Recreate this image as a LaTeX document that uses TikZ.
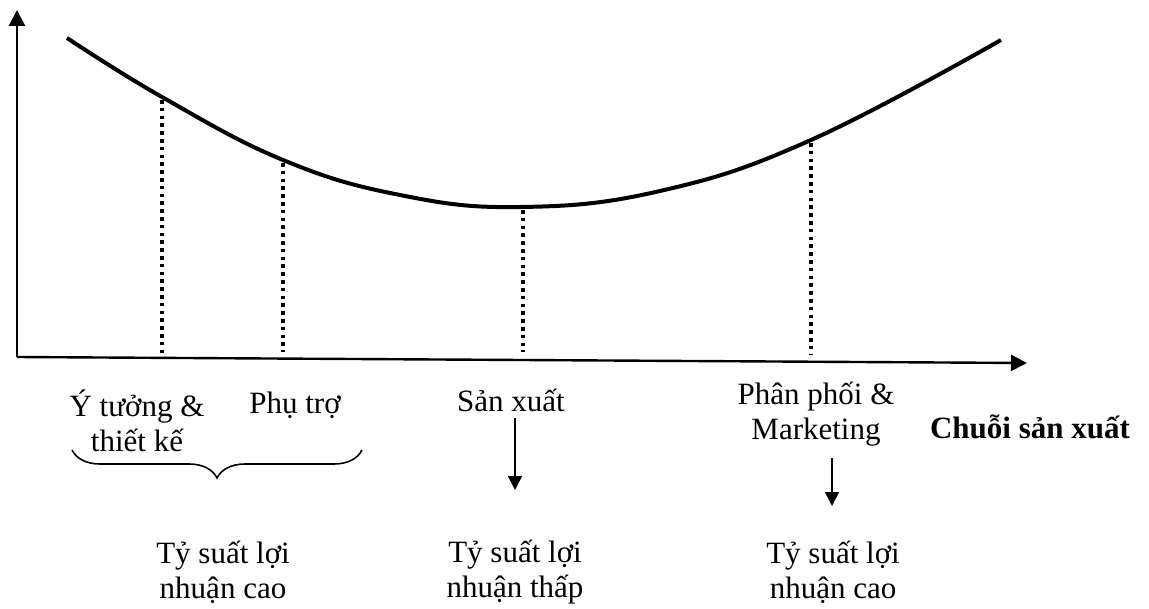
\documentclass[tikz,border=0pt]{standalone}
\usepackage{fontspec}
\setmainfont{Liberation Serif}
\usetikzlibrary{arrows.meta,decorations.pathreplacing}
\tikzset{
  truc/.style={line width=1.2pt,-{Triangle[length=8pt,width=8pt]}},
  duongcong/.style={line width=2pt},
  chamcham/.style={line width=1.8pt,dash pattern=on 1.8pt off 2.1pt},
  muiten/.style={line width=0.8pt,-{Triangle[length=7pt,width=7pt]}},
  nhan/.style={align=center,inner sep=0pt,font=\fontsize{15.5}{17.5}\selectfont}
}
\begin{document}
\begin{tikzpicture}[x=0.5pt,y=-0.5pt] % duong cong nu cuoi
\useasboundingbox (0,0) rectangle (1149,609);
\def\duong{(67,38) (162,97) (283,160) (400,195) (520,207) (660,191) (811,140) (1001,40)}
    % hai truc
    \coordinate (goc) at (17,357);
    \coordinate (dinhy) at (17,10);
    \coordinate (dinhx) at (1027,363);
    \draw[truc] (goc) -- (dinhy);
    \draw[truc] (goc) -- (dinhx);
    % duong cong
    \draw[duongcong] plot[smooth,tension=0.7] coordinates {\duong};
    % bon diem tren duong cong
    \coordinate (c1) at (162,100); \coordinate (f1) at (162,354);
    \coordinate (c2) at (283,163); \coordinate (f2) at (283,352);
    \coordinate (c3) at (523,210); \coordinate (f3) at (523,352);
    \coordinate (c4) at (811,143); \coordinate (f4) at (811,355);
    \foreach \i in {1,...,4}
        \draw[chamcham] (c\i) -- (f\i);
    % ten cac khau
    \node[nhan] (ytuong) at (137,421) {Ý tưởng \&\\thiết kế};
    \node[nhan,anchor=base] (phutro) at (295,413) {Phụ trợ};
    \node[nhan,anchor=base] (sanxuat) at (511,411) {Sản xuất};
    \node[nhan] (phanphoi) at (816,414) {Phân phối \&\\Marketing};
    \node[nhan,anchor=base,font=\fontsize{15.5}{17.5}\selectfont\bfseries] (chuoi) at (1030,438) {Chuỗi sản xuất};
    % ngoac va mui ten
    \coordinate (ngoactrai) at (72,450);
    \coordinate (ngoacphai) at (362,450);
    \draw[line width=0.8pt,decorate,decoration={brace,mirror,amplitude=14pt}] (ngoactrai) -- (ngoacphai);
    \coordinate (tu3) at (515,418); \coordinate (den3) at (515,490);
    \coordinate (tu4) at (832,458); \coordinate (den4) at (832,506);
    \draw[muiten] (tu3) -- (den3);
    \draw[muiten] (tu4) -- (den4);
    % ty suat loi nhuan
    \node[nhan] (cao1) at (223,572) {Tỷ suất lợi\\nhuận cao};
    \node[nhan] (thap) at (515,572) {Tỷ suất lợi\\nhuận thấp};
    \node[nhan] (cao2) at (833,572) {Tỷ suất lợi\\nhuận cao};
\end{tikzpicture}
\end{document}
